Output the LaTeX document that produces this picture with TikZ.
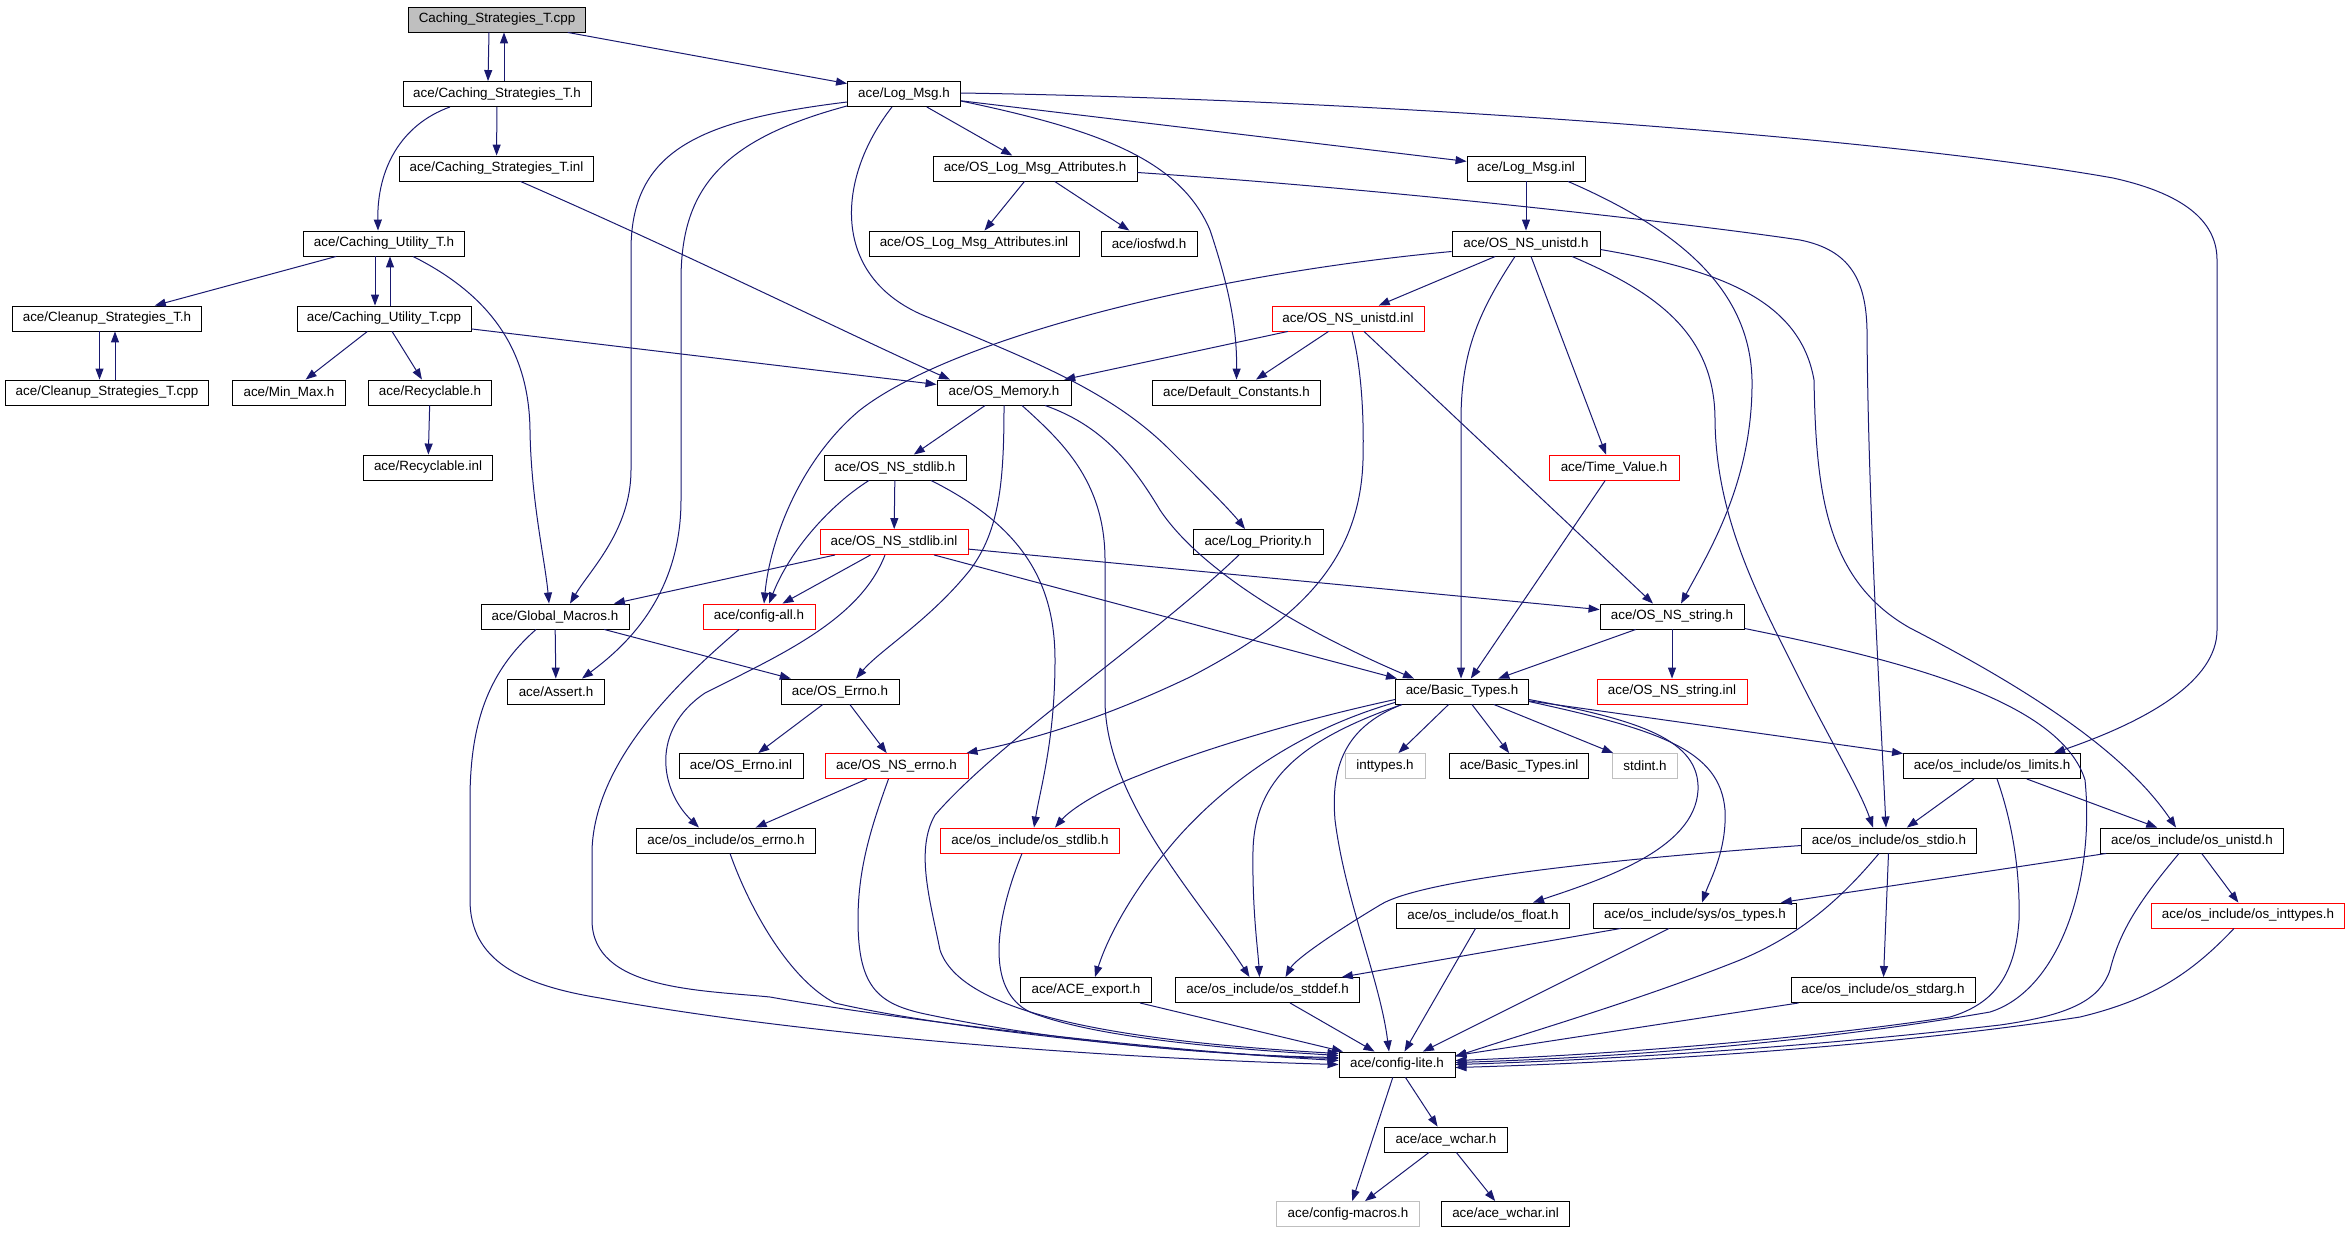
\documentclass[tikz,border=0pt]{standalone}
\usepackage{fontspec}
\setmainfont{Liberation Sans}
\usetikzlibrary{arrows.meta,calc}
\definecolor{edgec}{HTML}{191970}
\definecolor{grayb}{HTML}{BFBFBF}
\tikzset{
 box/.style={draw=black, line width=0.45pt, minimum height=12.5pt, inner sep=0pt, font=\fontsize{6.7}{7}\selectfont, anchor=center},
 redbox/.style={box, draw=red},
 graybox/.style={box, draw=grayb},
 rootbox/.style={box, fill=grayb},
 e/.style={draw=edgec, line width=0.5pt, -{Triangle[length=5.5pt,width=4pt]}},
}
\begin{document}
\begin{tikzpicture}[x=0.5pt,y=-0.5pt]
\useasboundingbox (0,0) rectangle (2348,1232);
% nodes
\node[rootbox, minimum width=88.5pt] (cstcpp) at (497,19.5) {Caching\_Strategies\_T.cpp};
\node[box, minimum width=94pt] (csth) at (497,94) {ace/Caching\_Strategies\_T.h};
\node[box, minimum width=56.5pt] (logmsgh) at (904,94) {ace/Log\_Msg.h};
\node[box, minimum width=97pt] (cstinl) at (496.5,168.5) {ace/Caching\_Strategies\_T.inl};
\node[box, minimum width=102pt] (oslmah) at (1035,168.5) {ace/OS\_Log\_Msg\_Attributes.h};
\node[box, minimum width=59pt] (logmsginl) at (1526,168.5) {ace/Log\_Msg.inl};
\node[box, minimum width=80.5pt] (cuth) at (384,243.5) {ace/Caching\_Utility\_T.h};
\node[box, minimum width=105pt] (oslmainl) at (974,243.5) {ace/OS\_Log\_Msg\_Attributes.inl};
\node[box, minimum width=48pt] (iosfwd) at (1149,243.5) {ace/iosfwd.h};
\node[box, minimum width=74pt] (osnsunistdh) at (1526,243.5) {ace/OS\_NS\_unistd.h};
\node[box, minimum width=94.5pt] (cleanh) at (107,318.5) {ace/Cleanup\_Strategies\_T.h};
\node[box, minimum width=87pt] (cutcpp) at (384,318.5) {ace/Caching\_Utility\_T.cpp};
\node[redbox, minimum width=76pt] (osnsunistdinl) at (1348,318.5) {ace/OS\_NS\_unistd.inl};
\node[box, minimum width=101.5pt] (cleancpp) at (107,392.5) {ace/Cleanup\_Strategies\_T.cpp};
\node[box, minimum width=56.5pt] (minmax) at (289,392.5) {ace/Min\_Max.h};
\node[box, minimum width=61.5pt] (recych) at (430,392.5) {ace/Recyclable.h};
\node[box, minimum width=67pt] (osmem) at (1004,392.5) {ace/OS\_Memory.h};
\node[box, minimum width=84pt] (defconst) at (1236.5,392.5) {ace/Default\_Constants.h};
\node[box, minimum width=64.5pt] (recycinl) at (428,467.5) {ace/Recyclable.inl};
\node[box, minimum width=71pt] (osnsstdlibh) at (895,467.5) {ace/OS\_NS\_stdlib.h};
\node[redbox, minimum width=65pt] (timevalue) at (1614,467.5) {ace/Time\_Value.h};
\node[box, minimum width=65pt] (logprio) at (1258,542) {ace/Log\_Priority.h};
\node[redbox, minimum width=74pt] (osnsstdlibinl) at (894,542) {ace/OS\_NS\_stdlib.inl};
\node[box, minimum width=74pt] (globalmacros) at (555,616.5) {ace/Global\_Macros.h};
\node[redbox, minimum width=56pt] (configall) at (759,616.5) {ace/config-all.h};
\node[box, minimum width=72pt] (osnsstringh) at (1672,616.5) {ace/OS\_NS\_string.h};
\node[box, minimum width=48.5pt] (assert) at (556,691.5) {ace/Assert.h};
\node[box, minimum width=59pt] (oserrnoh) at (840,691.5) {ace/OS\_Errno.h};
\node[box, minimum width=66.5pt] (basictypes) at (1462,691.5) {ace/Basic\_Types.h};
\node[redbox, minimum width=75pt] (osnsstringinl) at (1672,691.5) {ace/OS\_NS\_string.inl};
\node[box, minimum width=62pt] (oserrnoinl) at (741,766) {ace/OS\_Errno.inl};
\node[redbox, minimum width=71.5pt] (osnserrno) at (896.5,766) {ace/OS\_NS\_errno.h};
\node[graybox, minimum width=40pt] (inttypes) at (1385,766) {inttypes.h};
\node[box, minimum width=69.5pt] (basictypesinl) at (1519,766) {ace/Basic\_Types.inl};
\node[graybox, minimum width=32.5pt] (stdint) at (1645,766) {stdint.h};
\node[box, minimum width=88.5pt] (oslimits) at (1992,766) {ace/os\_include/os\_limits.h};
\node[box, minimum width=89.5pt] (oserrnoinc) at (726,840.5) {ace/os\_include/os\_errno.h};
\node[redbox, minimum width=89.5pt] (osstdlibinc) at (1030,840.5) {ace/os\_include/os\_stdlib.h};
\node[box, minimum width=87.5pt] (osstdio) at (1889,840.5) {ace/os\_include/os\_stdio.h};
\node[box, minimum width=91.5pt] (osunistd) at (2192,840.5) {ace/os\_include/os\_unistd.h};
\node[box, minimum width=86.5pt] (osfloat) at (1483,915.5) {ace/os\_include/os\_float.h};
\node[box, minimum width=101.5pt] (ostypes) at (1695,915.5) {ace/os\_include/sys/os\_types.h};
\node[redbox, minimum width=96.5pt] (osinttypes) at (2248,915.5) {ace/os\_include/os\_inttypes.h};
\node[box, minimum width=65.5pt] (aceexport) at (1086,990) {ace/ACE\_export.h};
\node[box, minimum width=92pt] (osstddef) at (1267.5,990) {ace/os\_include/os\_stddef.h};
\node[box, minimum width=92pt] (osstdarg) at (1883,990) {ace/os\_include/os\_stdarg.h};
\node[box, minimum width=58pt] (configlite) at (1397,1064.5) {ace/config-lite.h};
\node[box, minimum width=61.5pt] (acewcharh) at (1446,1139.5) {ace/ace\_wchar.h};
\node[graybox, minimum width=71.5pt] (configmacros) at (1348,1214) {ace/config-macros.h};
\node[box, minimum width=64pt] (acewcharinl) at (1505.5,1214) {ace/ace\_wchar.inl};
% edges
\draw[e] ($(cstcpp.south)+(-8,0)$) -- ($(csth.north)+(-9,0)$);
\draw[e] ($(csth.north)+(7,0)$) -- ($(cstcpp.south)+(7,0)$);
\draw[e] (cstcpp) -- (logmsgh);
\draw[e] (csth) -- (cstinl);
\draw[e] ($(csth.south)+(-47,0)$) .. controls (400,125) and (377,170) .. ($(cuth.north)+(-6,0)$);
\draw[e] ($(cstinl.south)+(24,0)$) .. controls (700,260) and (850,335) .. ($(osmem.north)+(-54,0)$);
\draw[e] (cuth) -- (cleanh);
\draw[e] ($(cuth.south)+(-9,0)$) -- ($(cutcpp.north)+(-9,0)$);
\draw[e] ($(cutcpp.north)+(6,0)$) -- ($(cuth.south)+(6,0)$);
\draw[e] ($(cuth.south)+(29,0)$) .. controls (500,300) and (529,360) .. (530,430) .. controls (531,500) and (545,560) .. ($(globalmacros.north)+(-6,0)$);
\draw[e] ($(cleanh.south)+(-7.5,0)$) -- ($(cleancpp.north)+(-7.5,0)$);
\draw[e] ($(cleancpp.north)+(8,0)$) -- ($(cleanh.south)+(8,0)$);
\draw[e] (cutcpp) -- (minmax);
\draw[e] (cutcpp) -- (recych);
\draw[e] (cutcpp) -- (osmem);
\draw[e] (recych) -- (recycinl);
\draw[e] (logmsgh) -- (oslmah);
\draw[e] (logmsgh) -- (logmsginl);
\draw[e] ($(logmsgh.west)+(0,8)$) .. controls (700,120) and (631,150) .. (631,250) -- (631,470) .. controls (631,530) and (590,570) .. ($(globalmacros.north)+(15,0)$);
\draw[e] ($(logmsgh.south west)+(0,-1)$) .. controls (720,140) and (681,190) .. (681,280) -- (681,500) .. controls (681,600) and (620,650) .. ($(assert.north)+(26,0)$);
\draw[e] ($(logmsgh.south)+(-12,0)$) .. controls (835,180) and (830,280) .. (930,318) .. controls (1030,360) and (1110,390) .. (1170,450) .. controls (1200,480) and (1230,510) .. ($(logprio.north)+(-13,0)$);
\draw[e] ($(logmsgh.east)+(0,7)$) .. controls (1100,130) and (1180,160) .. (1210,230) .. controls (1230,290) and (1237,330) .. (defconst.north);
\draw[e] ($(logmsgh.east)+(0,-1)$) .. controls (1400,100) and (1900,140) .. (2113,178) .. controls (2190,195) and (2217,225) .. (2217,260) -- (2217,630) .. controls (2217,680) and (2150,720) .. ($(oslimits.north)+(62,0)$);
\draw[e] (oslmah) -- (oslmainl);
\draw[e] (oslmah) -- (iosfwd);
\draw[e] ($(oslmah.east)+(0,4)$) .. controls (1400,190) and (1700,225) .. (1800,240) .. controls (1850,250) and (1866,280) .. (1867,330) .. controls (1868,500) and (1880,700) .. ($(osstdio.north)+(-3,0)$);
\draw[e] (logmsginl) -- (osnsunistdh);
\draw[e] ($(logmsginl.south)+(42,0)$) .. controls (1680,230) and (1750,290) .. (1752,380) .. controls (1753,480) and (1710,550) .. ($(osnsstringh.north)+(9,0)$);
\draw[e] (osnsunistdh) -- (osnsunistdinl);
\draw[e] ($(osnsunistdh.west)+(0,8)$) .. controls (1200,275) and (950,340) .. (860,410) .. controls (800,460) and (770,540) .. ($(configall.north)+(5,0)$);
\draw[e] ($(osnsunistdh.south)+(-11,0)$) .. controls (1480,310) and (1461,350) .. (1461,420) -- ($(basictypes.north)+(-1,0)$);
\draw[e] ($(osnsunistdh.south)+(5,0)$) -- ($(timevalue.north)+(-8,0)$);
\draw[e] ($(osnsunistdh.south)+(46,0)$) .. controls (1650,290) and (1715,330) .. (1715,420) .. controls (1716,520) and (1760,600) .. (1800,680) .. controls (1830,740) and (1860,790) .. ($(osstdio.north)+(-16,0)$);
\draw[e] ($(osnsunistdh.east)+(0,6)$) .. controls (1720,270) and (1800,300) .. (1814,380) .. controls (1816,490) and (1825,580) .. (1910,628) .. controls (2050,700) and (2130,760) .. ($(osunistd.north)+(-16,0)$);
\draw[e] (osnsunistdinl) -- (osmem);
\draw[e] (osnsunistdinl) -- (defconst);
\draw[e] ($(osnsunistdinl.south)+(4,0)$) .. controls (1362,370) and (1364,420) .. (1363,460) .. controls (1360,560) and (1300,620) .. (1190,677) .. controls (1100,720) and (1030,740) .. ($(osnserrno.north)+(70,0)$);
\draw[e] ($(osnsunistdinl.south)+(16,0)$) -- ($(osnsstringh.north)+(-19,0)$);
\draw[e] (osmem) -- (osnsstdlibh);
\draw[e] (osmem.south) .. controls (1004,480) and (1000,530) .. (970,570) .. controls (930,620) and (880,650) .. ($(oserrnoh.north)+(16,0)$);
\draw[e] ($(osmem.south)+(18,0)$) .. controls (1060,440) and (1105,480) .. (1105,560) -- (1105,700) .. controls (1105,800) and (1200,900) .. ($(osstddef.north)+(-18,0)$);
\draw[e] ($(osmem.south)+(41,0)$) .. controls (1100,425) and (1130,460) .. (1160,510) .. controls (1200,570) and (1300,630) .. ($(basictypes.north)+(-48,0)$);
\draw[e] (osnsstdlibh) -- (osnsstdlibinl);
\draw[e] ($(osnsstdlibh.south)+(-26,0)$) .. controls (830,505) and (790,550) .. ($(configall.north)+(10,0)$);
\draw[e] ($(osnsstdlibh.south)+(36,0)$) .. controls (1020,525) and (1055,580) .. (1055,660) .. controls (1055,740) and (1040,790) .. ($(osstdlibinc.north)+(4,0)$);
\draw[e] (osnsstdlibinl) -- (globalmacros);
\draw[e] (osnsstdlibinl) -- (configall);
\draw[e] ($(osnsstdlibinl.south)+(-9,0)$) .. controls (860,620) and (780,655) .. (705,693) .. controls (650,730) and (660,790) .. ($(oserrnoinc.north)+(-27,0)$);
\draw[e] (osnsstdlibinl) -- (osnsstringh);
\draw[e] ($(osnsstdlibinl.south)+(40,0)$) -- ($(basictypes.north)+(-65,0)$);
\draw[e] (globalmacros) -- (assert);
\draw[e] (globalmacros) -- (oserrnoh);
\draw[e] ($(globalmacros.south)+(-19,0)$) .. controls (490,670) and (470,720) .. (470,800) -- (470,900) .. controls (470,960) and (520,985) .. (600,998) .. controls (800,1035) and (1100,1058) .. (configlite.west);
\draw[e] ($(configall.south)+(-20,0)$) .. controls (680,680) and (595,760) .. (592,850) -- (592,920) .. controls (592,990) and (700,990) .. (770,997) .. controls (900,1020) and (1150,1050) .. ($(configlite.west)+(0,-4)$);
\draw[e] (oserrnoh) -- (oserrnoinl);
\draw[e] (oserrnoh) -- (osnserrno);
\draw[e] (osnserrno) -- (oserrnoinc);
\draw[e] ($(osnserrno.south)+(-8,0)$) .. controls (870,830) and (858,870) .. (858,920) .. controls (858,990) and (880,1005) .. (930,1015) .. controls (1050,1040) and (1200,1055) .. ($(configlite.west)+(0,-7)$);
\draw[e] ($(oserrnoinc.south)+(4,0)$) .. controls (750,910) and (790,980) .. (835,1003) .. controls (950,1030) and (1200,1055) .. ($(configlite.west)+(0,-6)$);
\draw[e] ($(logprio.south)+(-19,0)$) .. controls (1150,640) and (1000,740) .. (935,815) .. controls (915,850) and (930,900) .. (940,950) .. controls (960,1010) and (1100,1040) .. ($(configlite.west)+(0,-11)$);
\draw[e] ($(osstdlibinc.south)+(-8,0)$) .. controls (995,920) and (985,990) .. (1030,1012) .. controls (1100,1040) and (1250,1050) .. ($(configlite.west)+(0,-9)$);
\draw[e] (aceexport) -- (configlite);
\draw[e] (osstddef) -- (configlite);
\draw[e] ($(basictypes.south)+(-60,0)$) .. controls (1350,725) and (1330,760) .. (1335,820) .. controls (1345,900) and (1380,980) .. ($(configlite.north)+(-8,0)$);
\draw[e] (osfloat) -- (configlite);
\draw[e] (ostypes) -- (configlite);
\draw[e] (ostypes) -- (osstddef);
\draw[e] ($(osstdio.south)+(-10,0)$) .. controls (1840,900) and (1800,935) .. (1740,960) .. controls (1640,1000) and (1520,1035) .. ($(configlite.east)+(0,-8)$);
\draw[e] (osstdarg) -- (configlite);
\draw[e] ($(oslimits.south)+(5,0)$) .. controls (2015,830) and (2020,880) .. (2019,920) .. controls (2015,980) and (1990,1005) .. (1950,1017) .. controls (1800,1040) and (1600,1055) .. ($(configlite.east)+(0,-4)$);
\draw[e] ($(osnsstringh.south east)+(0,-1)$) .. controls (1900,660) and (2060,700) .. (2085,780) .. controls (2095,880) and (2060,990) .. (1990,1012) .. controls (1800,1045) and (1600,1058) .. ($(configlite.east)+(0,-2)$);
\draw[e] ($(osunistd.south)+(-13,0)$) .. controls (2140,900) and (2120,930) .. (2110,970) .. controls (2100,1000) and (2070,1015) .. (2000,1025) .. controls (1800,1048) and (1600,1060) .. (configlite.east);
\draw[e] ($(osinttypes.south)+(-14,0)$) .. controls (2190,975) and (2150,1000) .. (2080,1017) .. controls (1900,1045) and (1650,1062) .. ($(configlite.east)+(0,3)$);
\draw[e] (oslimits) -- (osstdio);
\draw[e] (oslimits) -- (osunistd);
\draw[e] (basictypes) -- (oslimits);
\draw[e] (basictypes) -- (inttypes);
\draw[e] (basictypes) -- (basictypesinl);
\draw[e] (basictypes) -- (stdint);
\draw[e] ($(basictypes.west)+(0,8)$) .. controls (1300,720) and (1200,750) .. (1140,775) .. controls (1100,790) and (1070,810) .. ($(osstdlibinc.north)+(25,0)$);
\draw[e] ($(basictypes.south west)+(0,-2)$) .. controls (1300,730) and (1230,780) .. (1180,835) .. controls (1140,880) and (1110,930) .. ($(aceexport.north)+(9,0)$);
\draw[e] ($(basictypes.south west)+(7,0)$) .. controls (1300,740) and (1255,780) .. (1253,850) .. controls (1252,910) and (1258,950) .. ($(osstddef.north)+(-8,0)$);
\draw[e] ($(basictypes.east)+(0,8)$) .. controls (1640,720) and (1700,740) .. (1698,790) .. controls (1695,850) and (1600,880) .. ($(osfloat.north)+(50,0)$);
\draw[e] ($(basictypes.east)+(0,10)$) .. controls (1660,730) and (1720,750) .. (1725,810) .. controls (1727,850) and (1710,880) .. ($(ostypes.north)+(7,0)$);
\draw[e] ($(osstdio.west)+(0,5)$) .. controls (1600,860) and (1420,880) .. (1380,905) .. controls (1330,935) and (1295,960) .. ($(osstddef.north)+(18,0)$);
\draw[e] (osstdio) -- (osstdarg);
\draw[e] (osunistd) -- (ostypes);
\draw[e] (osunistd) -- (osinttypes);
\draw[e] (configlite) -- (acewcharh);
\draw[e] (configlite) -- (configmacros);
\draw[e] (acewcharh) -- (configmacros);
\draw[e] (acewcharh) -- (acewcharinl);
\draw[e] (timevalue) -- (basictypes);
\draw[e] (osnsstringh) -- (basictypes);
\draw[e] (osnsstringh) -- (osnsstringinl);
\end{tikzpicture}
\end{document}
